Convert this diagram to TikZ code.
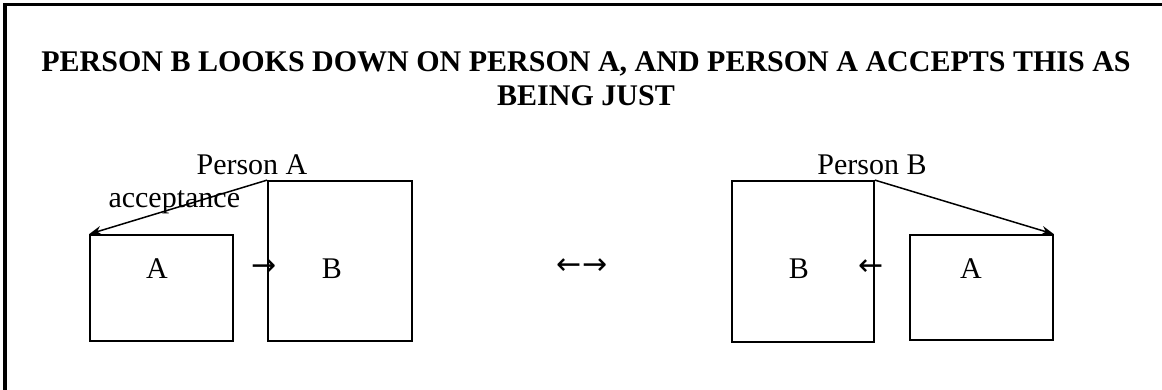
\documentclass[tikz,border=0pt]{standalone}
\usepackage{fontspec}
\setmainfont{Liberation Serif}
\newfontfamily\arrowfont{DejaVu Sans}
\usetikzlibrary{arrows.meta}
\begin{document}
\begin{tikzpicture}[x=0.4pt,y=-0.4pt,
  box/.style={draw,line width=0.7pt,inner sep=0pt},
  lbl/.style={font=\fontsize{12}{13.8}\selectfont,inner sep=0pt,anchor=base},
  titlestyle/.style={font=\fontsize{12}{13.8}\selectfont\bfseries,inner sep=0pt,align=center},
  glyph/.style={font=\arrowfont\fontsize{12}{13.8}\selectfont,inner sep=0pt,anchor=center},
  look/.style={line width=0.6pt,-{Stealth[length=5pt,width=3.6pt]}}]
\useasboundingbox (0,0) rectangle (1162,390);
\draw[line width=1.2pt] (5,390) -- (5,5) -- (1162,5);
\node[titlestyle,anchor=base] (ttl) at (586,106) {PERSON B LOOKS DOWN ON PERSON A, AND PERSON A ACCEPTS THIS AS\\BEING JUST};
% left group
\node[box,minimum width=57.2pt,minimum height=42.4pt] (aL) at (161.5,288) {};
\node[box,minimum width=57.6pt,minimum height=64pt] (bL) at (340,261) {};
\node[lbl] (aLt) at (157,279) {A};
\node[lbl] (bLt) at (332,279) {B};
\node[lbl] (pA) at (252,175) {Person A};
\node[lbl,anchor=base west] (acc) at (108,208) {acceptance};
\node[glyph] (arL) at (264,268) {→};
\draw[look] (bL.north west) -- (aL.north west);
% middle
\node[glyph] (mid) at (582,267) {←→};
% right group
\node[box,minimum width=56.8pt,minimum height=64.4pt] (bR) at (803,261.5) {};
\node[box,minimum width=57.2pt,minimum height=42pt] (aR) at (981.5,287.5) {};
\node[lbl] (bRt) at (799,279) {B};
\node[lbl] (aRt) at (971,279) {A};
\node[lbl] (pB) at (872,175) {Person B};
\node[glyph] (arR) at (871,268) {←};
\draw[look] (bR.north east) -- (aR.north east);
\end{tikzpicture}
\end{document}
